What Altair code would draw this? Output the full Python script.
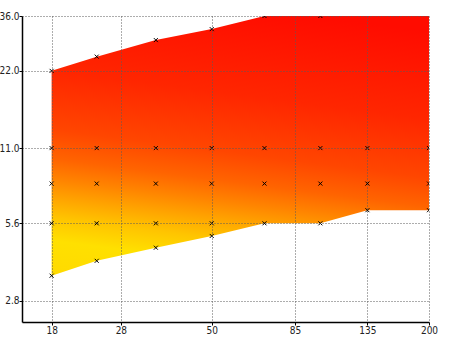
import altair as alt
import pandas as pd

# x positions of the sampled columns
xs = [18, 24, 35, 50, 70, 100, 135, 200]
# lower and upper boundary of the filled region (values above 36 are clipped)
lower = [3.5, 4.0, 4.5, 5.0, 5.6, 5.6, 6.3, 6.3]
upper = [22, 25, 29, 32, 36, 36, 40, 45]
# interior marker levels
rows = [5.6, 8.0, 11.0]

x_ticks = [18, 28, 50, 85, 135, 200]
y_ticks = [2.8, 5.6, 11.0, 22.0, 36.0]

area_df = pd.DataFrame({"x": xs, "lo": lower, "hi": upper})

pts = []
for x, lo, hi in zip(xs, lower, upper):
    vals = [lo] + [r for r in rows if lo < r < hi] + [hi]
    for v in vals:
        pts.append({"x": x, "y": v})
pts_df = pd.DataFrame(pts)

font = "Liberation Sans Narrow, Arial Narrow, DejaVu Sans Condensed, sans-serif"

xscale = alt.Scale(type="log", domain=[14.9, 200], nice=False, zero=False)
yscale = alt.Scale(type="log", domain=[2.31, 36], nice=False, zero=False)

axis_common = dict(
    title=None, grid=True, gridColor="#5a5a5a", gridDash=[1, 2], gridWidth=1,
    domainColor="#000000", domainWidth=1.5, tickColor="#000000", tickSize=3,
    labelFont=font, labelFontSize=10, labelColor="#222222", labelPadding=0,
    zindex=1,
)

xenc = alt.X("x:Q", scale=xscale,
             axis=alt.Axis(values=x_ticks, format="d", labelFlush=False, **axis_common))

grad = alt.Gradient(
    gradient="linear",
    stops=[
        alt.GradientStop(color="#ffda00", offset=0.0),
        alt.GradientStop(color="#ffe000", offset=0.12),
        alt.GradientStop(color="#ffc400", offset=0.2),
        alt.GradientStop(color="#ffa200", offset=0.27),
        alt.GradientStop(color="#ff8400", offset=0.33),
        alt.GradientStop(color="#ff6400", offset=0.4),
        alt.GradientStop(color="#ff4600", offset=0.5),
        alt.GradientStop(color="#ff2600", offset=0.7),
        alt.GradientStop(color="#ff0c00", offset=1.0),
    ],
    x1=0, y1=1, x2=0.17, y2=0,
)

area = alt.Chart(area_df).mark_area(clip=True, color=grad).encode(
    x=xenc,
    y=alt.Y("lo:Q", scale=yscale,
            axis=alt.Axis(values=y_ticks, format=".1f", **axis_common)),
    y2="hi:Q",
)

points = alt.Chart(pts_df).mark_point(
    clip=True, shape="M-1,-1L1,1M1,-1L-1,1", size=16, filled=False,
    stroke="#000000", strokeWidth=1, opacity=1,
).encode(
    x=alt.X("x:Q", scale=xscale),
    y=alt.Y("y:Q", scale=yscale),
)

chart = alt.layer(area, points).properties(
    width=407, height=306,
    autosize=alt.AutoSizeParams(type="none"),
    padding={"left": 22, "top": 16, "right": 21, "bottom": 15},
).configure_view(stroke=None)

chart.save("out.html", embed_options={"renderer": "svg", "actions": False})
